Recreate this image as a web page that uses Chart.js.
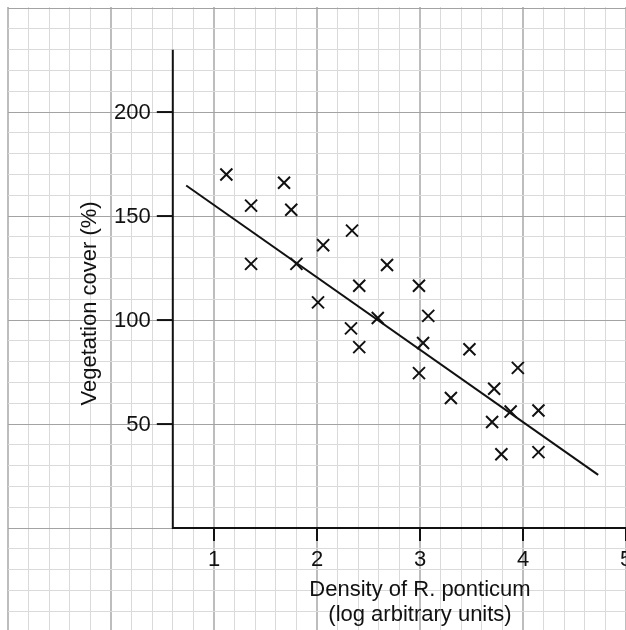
<!DOCTYPE html>
<html>
<head>
<meta charset="utf-8">
<script src="https://cdn.jsdelivr.net/npm/chart.js@4.4.1/dist/chart.umd.min.js"></script>
<style>
html,body{margin:0;padding:0;background:#fff;overflow:hidden}
#wrap{width:626px;height:630px;position:relative}
</style>
</head>
<body>
<div id="wrap"><canvas id="c"></canvas></div>
<script>
// ---- data ----
const densityX = [1.12, 1.36, 1.36, 1.68, 1.75, 1.80, 2.01, 2.06, 2.34, 2.33, 2.41, 2.41, 2.59, 2.68,
                  2.99, 3.08, 3.03, 2.99, 3.30, 3.48, 3.72, 3.70, 3.88, 3.95, 3.79, 4.15, 4.15];
const coverY   = [170, 155, 127, 166, 153, 127, 108.5, 136, 143, 96, 116.5, 87, 101, 126.5,
                  116.5, 102, 89, 74.5, 62.5, 86, 67, 51, 56, 77, 35.5, 56.5, 36.5];
const fitLineX = [0.73, 4.73];
const fitLineY = [164.7, 25.6];
const xTickValues = [1, 2, 3, 4, 5];
const xTickLabels = ['1', '2', '3', '4', '5'];
const yTickValues = [50, 100, 150, 200];
const yTickLabels = ['50', '100', '150', '200'];
const xTitleLines = ['Density of R. ponticum', '(log arbitrary units)'];
const yTitle = 'Vegetation cover (%)';

// axis frame (in data units)
const AXIS_X = 0.6, AXIS_Y = 0, AXIS_TOP = 230, AXIS_RIGHT = 5.2;

const FONT = '22px "Liberation Sans", Arial, Helvetica, sans-serif';
const INK = '#111';

function near(v, step) { return Math.abs(v / step - Math.round(v / step)) < 1e-6; }

const axesPlugin = {
  id: 'paperAxes',
  beforeDatasetsDraw(chart) {
    const ctx = chart.ctx, xs = chart.scales.x, ys = chart.scales.y;
    const ax = xs.getPixelForValue(AXIS_X), ay = ys.getPixelForValue(AXIS_Y);
    ctx.save();
    ctx.strokeStyle = INK; ctx.fillStyle = INK; ctx.lineWidth = 2;
    ctx.lineCap = 'butt';
    // axis lines
    ctx.beginPath();
    ctx.moveTo(ax, ys.getPixelForValue(AXIS_TOP));
    ctx.lineTo(ax, ay);
    ctx.lineTo(xs.getPixelForValue(AXIS_RIGHT), ay);
    ctx.stroke();
    // x ticks
    ctx.font = FONT; ctx.textAlign = 'center'; ctx.textBaseline = 'middle';
    xTickValues.forEach((v, i) => {
      const px = xs.getPixelForValue(v);
      ctx.beginPath(); ctx.moveTo(px, ay); ctx.lineTo(px, ay + 13); ctx.stroke();
      ctx.fillText(xTickLabels[i], px, ay + 32);
    });
    // y ticks
    ctx.textAlign = 'right';
    yTickValues.forEach((v, i) => {
      const py = ys.getPixelForValue(v);
      ctx.beginPath(); ctx.moveTo(ax, py); ctx.lineTo(ax - 16, py); ctx.stroke();
      ctx.fillText(yTickLabels[i], ax - 22, py + 1);
    });
    // x title
    ctx.textAlign = 'center';
    const tx = xs.getPixelForValue(3);
    ctx.fillText(xTitleLines[0], tx, ay + 62);
    ctx.fillText(xTitleLines[1], tx, ay + 87);
    // y title
    ctx.save();
    ctx.translate(ax - 83, ys.getPixelForValue(108));
    ctx.rotate(-Math.PI / 2);
    ctx.fillText(yTitle, 0, 0);
    ctx.restore();
    ctx.restore();
  }
};

const gridCfg = (majorStep, minorColor, majorColor, majorWidth) => ({
  drawTicks: false,
  color: c => near(c.tick.value, majorStep) ? majorColor : minorColor,
  lineWidth: c => near(c.tick.value, majorStep) ? majorWidth : 1
});

new Chart(document.getElementById('c'), {
  type: 'scatter',
  data: {
    datasets: [
      {
        label: 'obs',
        data: densityX.map((x, i) => ({ x, y: coverY[i] })),
        pointStyle: 'crossRot',
        pointRadius: 8.5,
        pointBorderWidth: 2,
        borderColor: INK,
        backgroundColor: INK
      },
      {
        type: 'line',
        label: 'fit',
        data: fitLineX.map((x, i) => ({ x, y: fitLineY[i] })),
        borderColor: INK,
        borderWidth: 2,
        pointRadius: 0,
        fill: false
      }
    ]
  },
  plugins: [axesPlugin],
  options: {
    responsive: true,
    maintainAspectRatio: false,
    animation: false,
    layout: { autoPadding: false, padding: { left: 8, top: 7, right: 0, bottom: 0 } },
    plugins: { legend: { display: false }, tooltip: { enabled: false } },
    scales: {
      x: {
        type: 'linear', min: -1, max: 5,
        ticks: { display: false },
        border: { display: false },
        afterBuildTicks: s => { const t = []; for (let i = -5; i <= 25; i++) t.push({ value: i / 5 }); s.ticks = t; },
        grid: gridCfg(1, '#dadada', '#bdbdbd', 2)
      },
      y: {
        type: 'linear', min: -49, max: 250.5,
        ticks: { display: false },
        border: { display: false },
        afterBuildTicks: s => { const t = []; for (let v = -40; v <= 250; v += 10) t.push({ value: v }); s.ticks = t; },
        grid: gridCfg(50, '#dadada', '#a3a3a3', 1)
      }
    }
  }
});
</script>
</body>
</html>
